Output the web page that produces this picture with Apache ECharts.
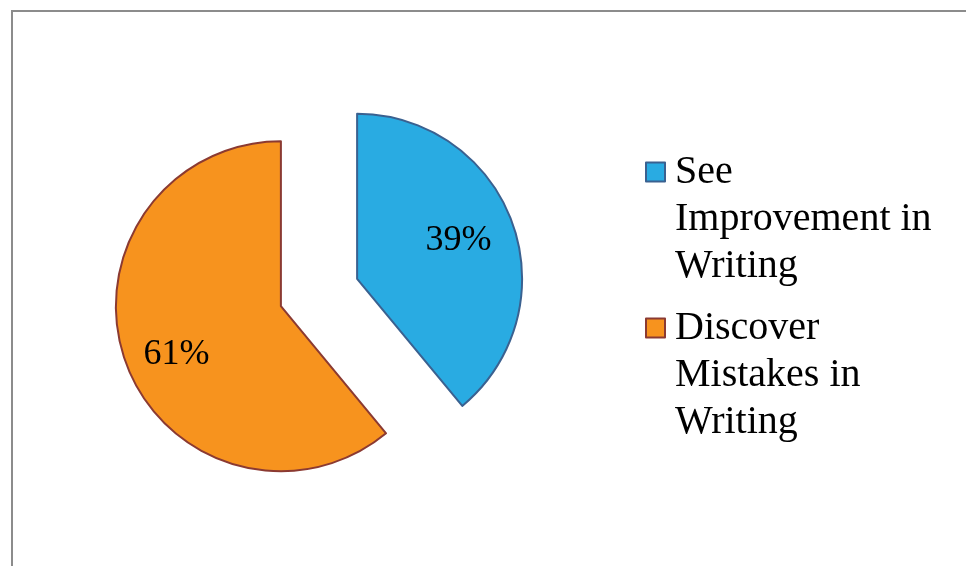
<!DOCTYPE html>
<html>
<head>
<meta charset="utf-8">
<script src="https://cdn.jsdelivr.net/npm/echarts@6/dist/echarts.min.js"></script>
<style>
html, body { margin: 0; padding: 0; background: #fff; overflow: hidden; }
#chart { width: 966px; height: 566px; }
</style>
</head>
<body>
<div id="chart"></div>
<script>
const categories = ['See Improvement in Writing', 'Discover Mistakes in Writing'];
const values = [39, 61];
const legendLabels = ['See\nImprovement in\nWriting', 'Discover\nMistakes in\nWriting'];
const fillColors = ['#29ABE2', '#F7931E'];
const borderColors = ['#3A6190', '#8B3A32'];

const chart = echarts.init(document.getElementById('chart'), null, { renderer: 'canvas' });

const fontFamily = '"Liberation Serif", "Times New Roman", serif';
const center = [319, 292.5];
const outerR = 165;
const offset = 40.5;
const labelPads = [[0, 10, 0, 0], [0, 0, 0, 4]];
const labelFormats = ['{v|{d}%}', '{s| }\n{v|{d}%}'];

const visibleData = categories.map((name, i) => ({
  name: name,
  value: values[i],
  selected: true,
  itemStyle: { color: fillColors[i], borderColor: borderColors[i], borderWidth: 2 }
}));

const labelData = categories.map((name, i) => ({
  name: name,
  value: values[i],
  selected: true,
  label: { padding: labelPads[i], formatter: labelFormats[i] }
}));

const option = {
  animation: false,
  graphic: [{
    type: 'rect',
    silent: true,
    shape: { x: 12, y: 11, width: 1400, height: 900 },
    style: { fill: 'none', stroke: '#8C8C8C', lineWidth: 2 }
  }],
  legend: {
    orient: 'vertical',
    left: 645,
    top: 147.5,
    padding: 0,
    itemGap: 13,
    itemWidth: 19,
    itemHeight: 141,
    icon: 'path://M0,0M0,14L19,14L19,33L0,33ZM19,141',
    data: categories,
    selectedMode: false,
    formatter: function (name) {
      return legendLabels[categories.indexOf(name)];
    },
    textStyle: {
      fontFamily: fontFamily,
      fontSize: 40,
      lineHeight: 47,
      color: '#000',
      padding: [0, 0, 0, 5]
    }
  },
  series: [
    {
      type: 'pie',
      center: center,
      radius: [0, outerR],
      startAngle: 90,
      clockwise: true,
      selectedMode: 'multiple',
      selectedOffset: offset,
      silent: true,
      label: { show: false },
      labelLine: { show: false },
      emphasis: { disabled: true },
      data: visibleData
    },
    {
      type: 'pie',
      center: center,
      radius: [55, outerR],
      startAngle: 90,
      clockwise: true,
      selectedMode: 'multiple',
      selectedOffset: offset,
      silent: true,
      itemStyle: { color: 'rgba(0,0,0,0)', borderWidth: 0 },
      label: {
        show: true,
        position: 'inside',
        fontFamily: fontFamily,
        fontSize: 36,
        color: '#000',
        rich: {
          v: { fontFamily: fontFamily, fontSize: 36, lineHeight: 40, color: '#000' },
          s: { fontSize: 1, lineHeight: 20 }
        }
      },
      labelLine: { show: false },
      emphasis: { disabled: true },
      data: labelData
    }
  ]
};

chart.setOption(option);
</script>
</body>
</html>
